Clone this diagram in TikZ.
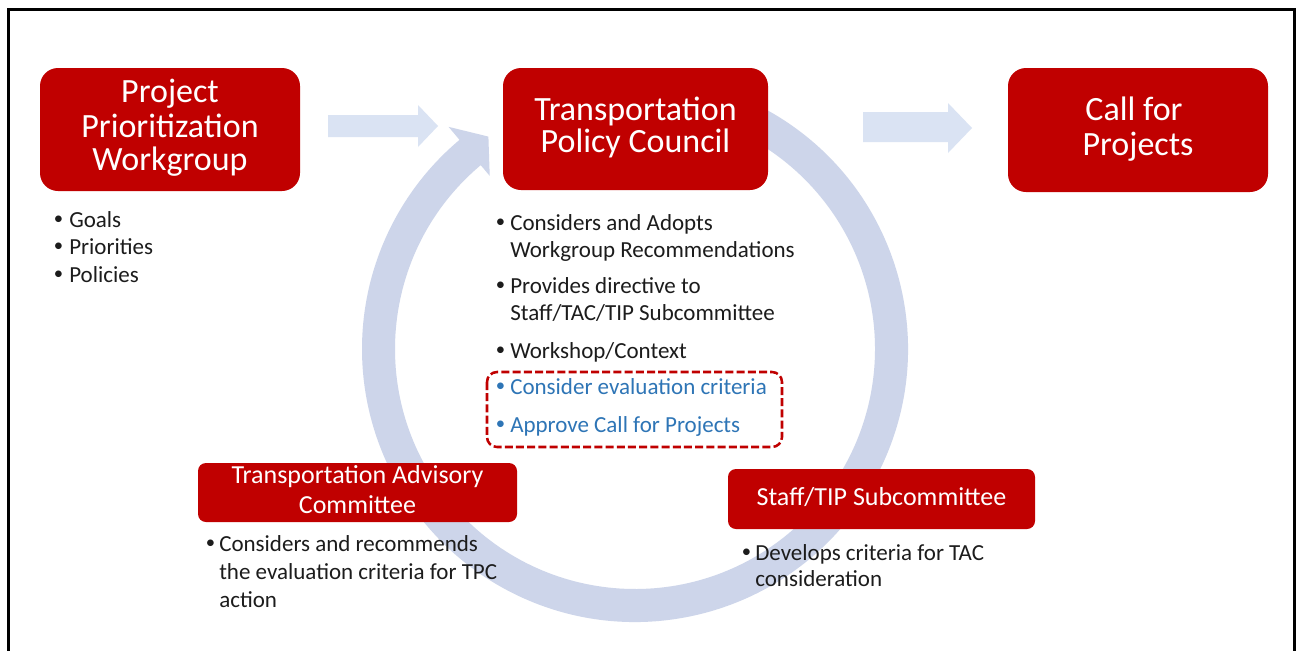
\documentclass[tikz,border=0pt]{standalone}
\usepackage{fontspec}
\setmainfont{Carlito}
\usetikzlibrary{calc}
\definecolor{boxred}{RGB}{192,0,0}
\definecolor{ringc}{RGB}{205,213,234}
\definecolor{arrc}{RGB}{218,227,243}
\definecolor{txt}{RGB}{28,28,28}
\definecolor{blu}{RGB}{46,117,182}
\definecolor{dashred}{RGB}{192,0,0}
\begin{document}
\begin{tikzpicture}[x=0.75pt,y=-0.75pt,
  bigbox/.style={fill=boxred, draw=none, rounded corners=13.5pt, inner sep=0pt},
  smallbox/.style={fill=boxred, draw=none, rounded corners=6pt, inner sep=0pt},
  ttl/.style={text=white, anchor=base, inner sep=0pt, font=\fontsize{25.5}{25.5}\selectfont},
  sttl/.style={text=white, anchor=base, inner sep=0pt, font=\fontsize{19.5}{19.5}\selectfont},
  btxt/.style={text=txt, anchor=base west, inner sep=0pt, font=\fontsize{17.25}{20}\selectfont},
  bdot/.style={text=txt, anchor=base, inner sep=0pt, font=\fontsize{14}{14}\selectfont},
  hilite/.style={draw=dashred, line width=1.9pt, dash pattern=on 6pt off 2.4pt, rounded corners=7.5pt}
]
\useasboundingbox (0,0) rectangle (1299,650);
\fill[white] (0,0) rectangle (1299,650);
% frame
\draw[line width=2pt, black] (8.7,665) -- (8.7,9.5) -- (1294.5,9.5) -- (1294.5,665);

% circular arrow
\coordinate (C) at (635,349);
\fill[ringc] ($(C)+(-62:273)$) arc[start angle=-62, end angle=230, radius=273]
  -- ($(C)+(230:290)$) -- (488.4,136.6) -- ($(C)+(230:226)$) -- ($(C)+(230:240)$)
  arc[start angle=230, end angle=-62, radius=240] -- cycle;

% straight block arrows
\fill[arrc] (328,115) -- (418,115) -- (418,105) -- (438,126) -- (418,147) -- (418,137) -- (328,137) -- cycle;
\fill[arrc] (863,112) -- (948,112) -- (948,103) -- (972,128) -- (948,153) -- (948,142) -- (863,142) -- cycle;

% boxes
\node[bigbox, minimum width=195pt, minimum height=92.25pt] (ppw) at (170,129.5) {};
\node[bigbox, minimum width=198.75pt, minimum height=91.5pt] (tpc) at (635.5,129) {};
\node[bigbox, minimum width=195pt, minimum height=93pt] (cfp) at (1138,130) {};
\node[smallbox, minimum width=239.25pt, minimum height=44.25pt] (tac) at (357.5,492.5) {};
\node[smallbox, minimum width=230.25pt, minimum height=45pt] (stf) at (881.5,499) {};

% titles
\node[ttl] (ppw1) at (170,102) {Project};
\node[ttl] (ppw2) at (170,137) {Prioritization};
\node[ttl] (ppw3) at (170,170) {Workgroup};
\node[ttl] (tpc1) at (635.5,120) {Transportation};
\node[ttl] (tpc2) at (635.5,152) {Policy Council};
\node[ttl] (cfp1) at (1134,120) {Call for};
\node[ttl] (cfp2) at (1138,155) {Projects};
\node[sttl] (tac1) at (357.5,483) {Transportation Advisory};
\node[sttl] (tac2) at (357.5,513) {Committee};
\node[sttl] (stf1) at (881.5,505) {Staff/TIP Subcommittee};

% left list
\node[bdot] (d1) at (58.5,227) {\raisebox{1.6pt}{•}};
\node[btxt] (l1) at (69,227) {Goals};
\node[bdot] (d2) at (58.5,254) {\raisebox{1.6pt}{•}};
\node[btxt] (l2) at (69,254) {Priorities};
\node[bdot] (d3) at (58.5,282) {\raisebox{1.6pt}{•}};
\node[btxt] (l3) at (69,282) {Policies};

% TPC list
\node[bdot] (e1) at (500.5,230) {\raisebox{1.6pt}{•}};
\node[btxt] (m1) at (510,230) {Considers and Adopts};
\node[btxt] (m1b) at (510,257) {Workgroup Recommendations};
\node[bdot] (e2) at (500.5,293) {\raisebox{1.6pt}{•}};
\node[btxt] (m2) at (510,293) {Provides directive to};
\node[btxt] (m2b) at (510,320) {Staff/TAC/TIP Subcommittee};
\node[bdot] (e3) at (500.5,358) {\raisebox{1.6pt}{•}};
\node[btxt] (m3) at (510,358) {Workshop/Context};
\node[bdot, text=blu] (e4) at (500.5,394) {\raisebox{1.6pt}{•}};
\node[btxt, text=blu] (m4) at (510,394) {Consider evaluation criteria};
\node[bdot, text=blu] (e5) at (500.5,432) {\raisebox{1.6pt}{•}};
\node[btxt, text=blu] (m5) at (510,432) {Approve Call for Projects};
\draw[hilite] (487,372) rectangle (782,447);

% TAC list
\node[bdot] (f1) at (210.5,551) {\raisebox{1.6pt}{•}};
\node[btxt] (n1) at (219,551) {Considers and recommends};
\node[btxt] (n1b) at (219,579) {the evaluation criteria for TPC};
\node[btxt] (n1c) at (219,607) {action};

% Staff list
\node[bdot] (g1) at (746.5,560) {\raisebox{1.6pt}{•}};
\node[btxt] (o1) at (755,560) {Develops criteria for TAC};
\node[btxt] (o1b) at (755,586) {consideration};
\end{tikzpicture}
\end{document}
